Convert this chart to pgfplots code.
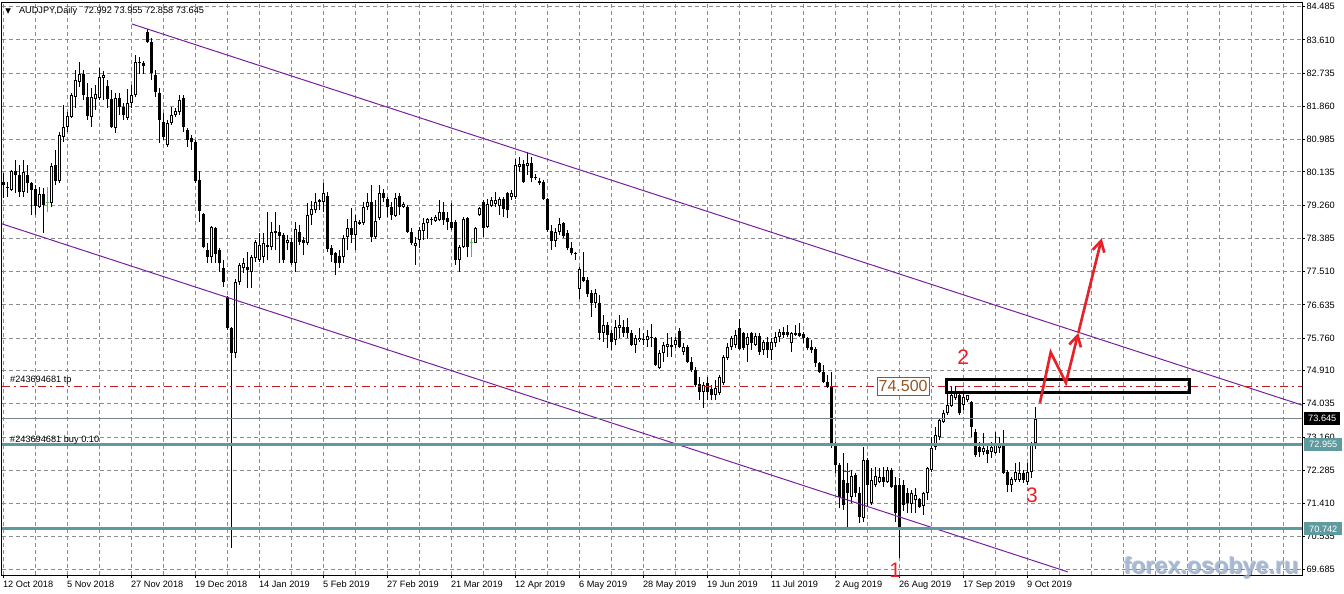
\documentclass[border=0pt]{standalone}
\usepackage{fontspec}
\setmainfont{Liberation Sans}
\newfontfamily\dejavu{DejaVu Sans}
\usepackage{pgfplots}
\pgfplotsset{compat=1.18}
\usepackage{pgfplotstable}
\usetikzlibrary{arrows.meta,calc}

\definecolor{gridc}{RGB}{140,140,140}
\definecolor{chan}{RGB}{120,30,160}
\definecolor{lvl}{RGB}{95,155,158}
\definecolor{pxgray}{RGB}{120,132,140}
\definecolor{tpred}{RGB}{190,30,30}
\definecolor{arr}{RGB}{232,32,40}
\definecolor{boxbrown}{RGB}{150,85,35}
\definecolor{wm}{RGB}{165,185,212}
\definecolor{wmshade}{RGB}{105,125,155}
\definecolor{doji}{RGB}{60,200,60}

% daily candles, x = bar number (0 = 12 Oct 2018)
\pgfplotstableread{
x o h l c
0 79.87 80.11 79.45 79.79
1 79.74 79.87 79.48 79.71
2 79.66 80.19 79.63 80.16
3 80.16 80.45 79.58 80.06
4 80.06 80.32 79.48 79.61
5 79.61 80.45 79.48 80.14
6 80.06 80.32 79.58 79.85
7 79.85 79.87 79.00 79.66
8 79.69 79.79 79.00 79.24
9 79.21 79.74 79.19 79.56
10 79.56 79.71 78.53 79.27
12 79.32 80.37 79.21 80.29
13 80.32 80.71 79.79 79.90
14 79.90 81.19 79.85 81.11
15 81.06 81.90 80.92 81.32
16 81.32 81.71 81.19 81.61
17 81.58 82.21 81.56 82.16
18 82.11 82.82 81.82 82.56
19 82.50 83.03 82.37 82.71
20 82.71 82.82 82.03 82.16
21 82.11 82.48 81.50 81.61
22 81.58 82.35 81.32 82.11
23 82.06 82.42 81.77 82.19
24 82.08 82.87 82.03 82.64
25 82.61 82.79 82.03 82.69
26 82.40 82.56 81.82 82.06
27 82.06 82.29 81.29 81.32
28 81.29 82.21 81.16 82.08
29 82.08 82.21 81.63 81.85
30 81.85 81.95 81.50 81.63
31 81.56 82.32 81.50 81.95
32 81.95 82.42 81.82 82.16
33 82.16 83.21 82.11 83.03
34 83.00 83.16 82.71 83.03
35 83.00 83.06 82.71 82.92
36 83.82 83.90 83.53 83.56
37 83.56 83.66 82.56 82.74
38 82.69 82.82 82.11 82.24
39 82.21 82.35 80.90 81.50
40 81.45 81.69 80.98 81.06
41 80.85 81.50 80.79 81.42
42 81.42 81.85 81.37 81.63
43 81.63 81.82 81.58 81.74
44 81.71 82.16 81.63 82.03
45 82.08 82.16 81.19 81.32
46 81.24 81.29 80.79 80.98
47 81.03 81.11 80.71 80.92
48 80.92 80.98 79.85 79.90
49 79.92 80.16 78.82 79.11
50 79.03 79.06 78.14 78.16
51 78.08 78.27 77.74 77.90
52 77.90 78.71 77.74 78.69
53 78.66 78.69 77.74 77.98
54 78.08 78.14 77.50 77.74
55 77.61 77.82 77.11 77.24
56 76.85 76.87 75.98 76.03
57 76.03 76.06 70.24 75.37
58 75.37 77.32 75.24 77.24
59 77.24 77.74 77.16 77.69
60 77.61 77.87 77.48 77.74
61 77.64 78.03 77.08 77.56
62 77.50 77.95 77.08 77.90
63 77.87 78.35 77.77 78.29
64 77.82 78.53 77.77 78.21
65 77.90 78.53 77.74 78.27
66 78.16 79.08 77.82 78.21
67 78.16 78.82 78.08 78.56
68 78.53 79.08 78.08 78.58
69 78.56 78.74 77.74 78.45
70 78.48 78.53 77.74 77.82
71 78.27 78.48 78.08 78.35
72 78.29 78.40 77.69 77.74
73 77.74 78.82 77.50 78.64
74 78.56 78.74 78.21 78.29
75 78.35 78.42 77.95 78.27
76 78.27 79.32 78.21 79.00
77 79.00 79.37 78.74 79.16
78 79.13 79.58 79.06 79.35
79 79.35 79.42 79.13 79.40
80 79.35 79.85 79.08 79.58
81 79.50 79.61 78.03 78.11
82 78.14 78.21 77.77 77.95
83 78.00 78.03 77.42 77.74
84 77.92 78.08 77.61 77.74
85 77.90 78.48 77.74 78.40
86 78.42 78.90 78.08 78.66
87 78.66 79.19 78.27 78.48
88 78.48 79.00 78.08 78.84
89 78.77 78.87 78.74 78.82
90 78.79 79.35 78.74 79.21
91 79.21 79.58 79.13 79.35
92 79.35 79.79 78.29 78.42
93 78.42 79.40 78.37 78.84
94 78.92 79.79 78.87 79.58
95 79.58 79.69 79.35 79.45
96 79.42 79.48 78.95 79.21
97 79.21 79.35 78.87 79.00
98 78.98 79.58 78.95 79.45
99 79.50 79.58 79.00 79.21
100 79.21 79.35 79.19 79.29
101 79.21 79.27 78.53 78.56
102 78.56 78.66 78.21 78.27
103 78.19 78.42 77.69 78.27
104 78.35 78.69 78.14 78.61
105 78.58 78.92 78.35 78.79
106 78.79 78.92 78.37 78.90
107 78.87 78.95 78.74 78.90
108 78.84 79.00 78.82 78.95
109 78.87 79.40 78.84 79.08
110 79.08 79.35 78.74 78.87
111 78.92 79.08 78.61 78.82
112 78.82 79.32 78.61 78.66
113 78.82 78.87 77.69 77.82
114 77.82 78.21 77.50 78.16
115 78.16 78.95 78.14 78.90
116 78.92 78.95 77.90 78.16
118 78.27 78.69 78.27 78.66
119 79.00 79.21 78.98 79.19
120 79.35 79.40 78.42 78.66
121 78.69 79.42 78.66 79.29
122 79.24 79.48 79.21 79.40
123 79.29 79.61 79.21 79.40
124 79.24 79.48 79.00 79.42
125 79.42 79.48 78.95 79.16
126 79.58 79.61 78.92 79.13
127 79.48 79.66 79.40 79.58
128 79.48 80.48 79.42 80.32
129 80.27 80.53 80.14 80.35
130 80.35 80.45 79.85 79.87
131 80.29 80.66 80.06 80.37
132 80.37 80.53 79.87 79.98
133 80.00 80.08 79.92 79.98
134 79.90 79.98 79.79 79.85
135 79.87 79.92 79.40 79.42
136 79.42 79.45 78.56 78.61
137 78.58 78.74 78.08 78.32
138 78.32 78.66 78.16 78.56
139 78.56 78.92 78.48 78.77
140 78.79 78.82 78.40 78.45
141 78.53 78.61 78.08 78.14
142 78.14 78.29 77.95 78.00
143 78.00 78.03 77.82 77.98
144 77.06 77.63 76.79 77.58
145 77.37 78.03 77.24 77.27
146 77.29 77.37 76.85 76.92
147 76.95 77.03 76.32 76.69
148 76.69 77.06 76.56 76.95
149 76.69 76.90 75.71 75.90
150 75.90 76.37 75.66 76.11
151 76.11 76.19 75.50 75.85
152 75.90 75.98 75.45 75.66
153 75.71 76.24 75.58 76.06
154 76.03 76.37 75.77 76.11
155 76.06 76.24 75.79 75.90
156 76.06 76.29 75.77 75.90
157 75.90 75.98 75.56 75.58
158 75.58 75.85 75.37 75.77
159 75.71 76.03 75.66 75.77
160 75.74 75.90 75.58 75.71
161 75.71 75.98 75.53 75.82
162 75.79 76.13 75.53 75.77
163 75.77 75.79 75.03 75.06
164 74.98 75.45 74.95 75.37
165 75.37 75.66 75.14 75.58
166 75.53 75.90 75.27 75.61
167 75.53 75.79 75.27 75.58
168 75.58 75.79 75.50 75.71
169 75.95 76.03 75.50 75.53
170 75.40 75.63 75.32 75.53
171 75.53 75.58 75.11 75.14
172 75.14 75.27 74.87 74.92
173 74.92 75.00 74.48 74.53
174 74.56 74.74 74.14 74.35
175 74.35 74.61 73.93 74.53
176 74.59 74.74 74.14 74.35
177 74.42 74.53 74.14 74.27
178 74.27 74.66 74.14 74.45
179 74.32 74.79 74.27 74.74
180 74.59 75.32 74.53 75.27
181 75.24 75.63 75.19 75.53
182 75.53 75.82 75.45 75.77
183 75.58 75.98 75.50 75.85
184 76.03 76.27 75.45 75.48
185 75.90 75.92 75.45 75.50
186 75.58 75.90 75.14 75.79
187 75.90 75.92 75.45 75.63
188 75.58 75.90 75.56 75.82
189 75.82 75.90 75.32 75.40
190 75.45 75.71 75.32 75.66
191 75.66 75.79 75.24 75.45
192 75.45 75.77 75.19 75.66
193 75.63 75.92 75.53 75.79
194 75.79 76.00 75.66 75.92
195 75.92 76.06 75.77 75.85
196 75.92 76.11 75.79 75.85
197 75.63 75.92 75.40 75.90
198 75.90 76.11 75.82 75.85
199 75.90 76.16 75.79 75.82
200 75.87 75.92 75.63 75.77
201 75.77 75.79 75.45 75.50
202 75.53 75.71 75.37 75.45
203 75.48 75.53 75.00 75.11
204 75.11 75.14 74.84 74.87
205 74.87 75.06 74.59 74.61
206 74.61 74.79 74.45 74.48
207 74.48 74.87 72.87 72.95
208 73.00 73.03 72.21 72.42
209 72.42 72.48 71.29 71.58
210 72.03 72.74 71.24 71.37
211 71.95 72.48 70.77 71.69
212 71.58 72.29 71.42 72.14
213 72.16 72.21 71.58 71.69
214 71.69 71.85 70.90 71.06
215 71.03 72.90 70.92 72.56
216 72.56 72.61 71.32 71.90
217 71.42 72.35 71.37 72.03
218 71.90 72.37 71.85 72.14
219 71.98 72.35 71.95 72.11
220 72.11 72.37 71.85 71.98
221 71.98 72.37 71.95 72.29
222 72.29 72.35 71.82 71.85
223 71.90 72.11 70.92 71.16
224 71.90 72.08 69.98 70.77
225 71.90 72.03 71.21 71.37
226 71.69 71.82 71.16 71.42
227 71.40 71.77 71.16 71.69
228 71.50 71.82 71.16 71.64
229 71.53 71.56 71.29 71.32
230 71.35 71.71 71.11 71.69
231 71.69 72.37 71.50 72.35
232 72.29 73.16 72.24 72.87
233 72.90 73.42 72.82 73.21
234 73.16 73.66 73.08 73.61
235 73.56 73.87 73.53 73.79
236 73.79 74.40 73.74 74.00
237 73.98 74.48 73.95 74.27
238 74.19 74.50 74.14 74.35
239 74.27 74.32 73.74 73.79
240 74.00 74.29 73.87 74.21
241 74.14 74.27 74.08 74.27
242 74.08 74.10 73.16 73.42
243 73.29 73.37 72.63 72.69
244 72.90 73.03 72.63 72.77
245 72.77 73.27 72.69 72.87
246 72.82 73.00 72.48 72.71
247 72.77 73.03 72.61 72.90
248 72.74 73.29 72.71 73.00
249 72.87 73.16 72.74 72.95
250 73.00 73.34 72.19 72.21
251 72.24 72.29 71.71 71.90
252 71.90 72.11 71.71 72.06
253 72.03 72.48 71.98 72.24
254 72.03 72.50 71.98 72.21
255 72.21 72.29 71.95 72.03
256 71.98 72.48 71.90 72.24
257 72.24 73.03 72.08 73.00
258 72.992 73.955 72.858 73.645
}\candles

% open = close bars, drawn green by the terminal
\pgfplotstableread{
x o h l c
11 79.33 79.74 79.08 79.33
117 78.26 78.40 77.90 78.26
}\dojis

\begin{document}
\begin{tikzpicture}
\begin{axis}[
    scale only axis, width=975pt, height=429pt,
    xmin=-0.375, xmax=324.625, ymin=69.529, ymax=84.582,
    clip=false,
    axis line style={black, line width=0.75pt},
    xtick={0,16,...,256},
    xticklabels={12 Oct 2018,5 Nov 2018,27 Nov 2018,19 Dec 2018,14 Jan 2019,5 Feb 2019,27 Feb 2019,21 Mar 2019,12 Apr 2019,6 May 2019,28 May 2019,19 Jun 2019,11 Jul 2019,2 Aug 2019,26 Aug 2019,17 Sep 2019,9 Oct 2019},
    minor xtick={8,24,...,248,264,272,...,320},
    ytick={69.685,70.535,71.410,72.285,73.160,74.035,74.910,75.760,76.635,77.510,78.385,79.260,80.135,80.985,81.860,82.735,83.610,84.485},
    yticklabels={69.685,70.535,71.410,72.285,73.160,74.035,74.910,75.760,76.635,77.510,78.385,79.260,80.135,80.985,81.860,82.735,83.610,84.485},
    xtick pos=bottom, ytick pos=right, yticklabel pos=right,
    tick align=outside, major tick length=2.25pt, minor tick length=0pt,
    tick style={black, line width=0.75pt},
    grid=both,
    major grid style={gridc, line width=0.75pt, dash pattern=on 3pt off 2.25pt},
    minor grid style={gridc, line width=0.75pt, dash pattern=on 3pt off 2.25pt},
    tick label style={font=\fontsize{6.9}{8}\selectfont, black},
    xticklabel style={anchor=north west, inner sep=0pt, xshift=-0.5pt, yshift=-2pt},
    yticklabel style={anchor=west, inner sep=0pt, xshift=1pt},
]
% wicks
\addplot[draw=none, mark=none, error bars/.cd, y dir=plus, y explicit, error mark=none,
    error bar style={draw=black, solid, line width=0.75pt}]
    table[x=x, y=l, y error plus expr=\thisrow{h}-\thisrow{l}] {\candles};
% bodies
\addplot[draw=none, mark=none, error bars/.cd, y dir=plus, y explicit, error mark=none,
    error bar style={draw=black, solid, line width=2.25pt}]
    table[x=x, y expr={min(\thisrow{o},\thisrow{c})},
          y error plus expr={max(abs(\thisrow{c}-\thisrow{o}),0.0263)}] {\candles};
% hollow inside of rising bars
\addplot[draw=none, mark=none, error bars/.cd, y dir=plus, y explicit, error mark=none,
    error bar style={draw=white, solid, line width=0.75pt}]
    table[x=x, y expr={min(\thisrow{o},\thisrow{c})+0.0263},
          y error plus expr={max(\thisrow{c}-\thisrow{o}-0.0526,0)}] {\candles};
% doji bars
\addplot[draw=none, mark=none, error bars/.cd, y dir=plus, y explicit, error mark=none,
    error bar style={draw=doji, solid, line width=0.75pt}]
    table[x=x, y=l, y error plus expr=\thisrow{h}-\thisrow{l}] {\dojis};
\addplot[draw=none, mark=none, error bars/.cd, y dir=plus, y explicit, error mark=none,
    error bar style={draw=doji, solid, line width=2.25pt}]
    table[x=x, y=o, y error plus expr=0.0263] {\dojis};

% channel
\addplot[chan, line width=0.75pt] coordinates {(32.1,84.03) (324.625,74.00)};
\addplot[chan, line width=0.75pt] coordinates {(-0.375,78.77) (266.1,69.61)};

% levels
\addplot[pxgray, line width=0.75pt] coordinates {(-0.375,73.645) (324.625,73.645)};
\addplot[lvl, line width=2.25pt] coordinates {(-0.375,72.955) (324.625,72.955)};
\addplot[lvl, line width=2.25pt] coordinates {(-0.375,70.742) (324.625,70.742)};
\addplot[tpred, line width=0.75pt, dash pattern=on 6pt off 3pt on 1.5pt off 3pt] coordinates {(-0.375,74.5) (324.625,74.5)};
\addplot[red, line width=0.75pt] coordinates {(210.1,72.25) (211.6,72.25)};

% zone box
\addplot[black, line width=2.25pt, line join=miter] coordinates {(235.8,74.67) (296.6,74.67) (296.6,74.32) (235.8,74.32) (235.8,74.67) (240,74.67)};

% projected path
\addplot[arr, line width=2pt, line join=miter, -{Straight Barb[length=8pt,width=9pt,line width=2pt]}]
    coordinates {(259.1,74.06) (261.8,75.39) (265.6,74.59) (268.7,75.90)};
\addplot[arr, line width=2pt, -{Straight Barb[length=8pt,width=9pt,line width=2pt]}]
    coordinates {(268.7,75.90) (274.55,78.39)};

% texts
\node[anchor=west, inner sep=0pt, font=\fontsize{6.9}{8}\selectfont] at (axis cs:0.4,84.37)
    {{\dejavu\fontsize{5.5}{6}\selectfont ▼}\hspace{6pt}AUDJPY,Daily\hspace{5pt}72.992 73.955 72.858 73.645};
\node[anchor=west, inner sep=0pt, font=\fontsize{6.9}{8}\selectfont] at (axis cs:1.6,74.65) {\#243694681 tp};
\node[anchor=west, inner sep=0pt, font=\fontsize{6.9}{8}\selectfont] at (axis cs:1.6,73.08) {\#243694681 buy 0.10};
\node[draw=boxbrown, fill=white, text=boxbrown, line width=0.75pt, inner sep=0pt,
      minimum width=39pt, minimum height=13.5pt, font=\fontsize{12}{14}\selectfont]
      at (axis cs:224.9,74.50) {74.500};
\node[text=arr, inner sep=0pt, font=\fontsize{15.75}{18}\selectfont] at (axis cs:239.9,75.25) {2};
\node[text=arr, inner sep=0pt, font=\fontsize{15.75}{18}\selectfont] at (axis cs:257.1,71.64) {3};
\node[text=arr, inner sep=0pt, font=\fontsize{15.75}{18}\selectfont] at (axis cs:222.9,69.66) {1};

\coordinate (sw) at (rel axis cs:0,0);
\coordinate (ne) at (rel axis cs:1,1);
\coordinate (pA) at (axis cs:324.625,73.645);
\coordinate (pB) at (axis cs:324.625,72.955);
\coordinate (pC) at (axis cs:324.625,70.742);
\coordinate (wmk) at (axis cs:301.8,69.74);
\end{axis}
\node[anchor=west, xshift=1.5pt, fill=black, text=white, inner sep=0pt, minimum width=27pt,
      minimum height=9.75pt, font=\fontsize{6.9}{8}\selectfont] at (pA) {73.645};
\node[anchor=west, xshift=1.5pt, fill=lvl, text=white, inner sep=0pt, minimum width=28.5pt,
      minimum height=9.75pt, font=\fontsize{6.9}{8}\selectfont] at (pB) {72.955};
\node[anchor=west, xshift=1.5pt, fill=lvl, text=white, inner sep=0pt, minimum width=28.5pt,
      minimum height=9.75pt, font=\fontsize{6.9}{8}\selectfont] at (pC) {70.742};
\node[text=wmshade, opacity=0.55, xshift=0.8pt, yshift=-0.8pt, font=\bfseries\fontsize{17.5}{20}\selectfont] at (wmk) {forex.osobye.ru};
\node[text=wm, opacity=0.85, font=\bfseries\fontsize{17.5}{20}\selectfont] at (wmk) {forex.osobye.ru};
\pgfresetboundingbox
\path ($(sw)+(-1.5pt,-13.5pt)$) rectangle ($(ne)+(31.5pt,2.25pt)$);
\end{tikzpicture}
\end{document}
